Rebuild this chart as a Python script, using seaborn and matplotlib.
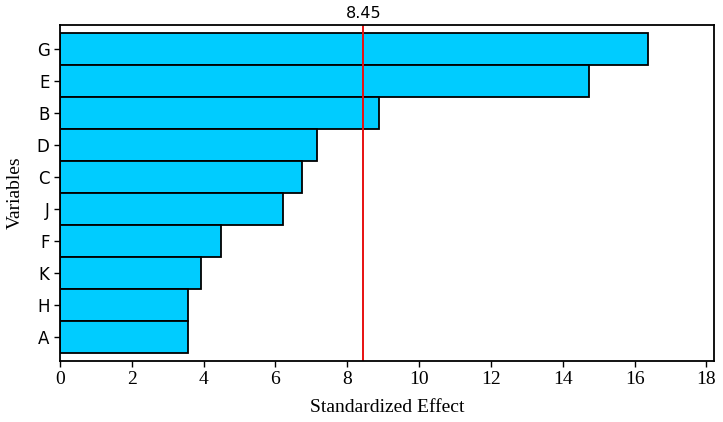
import numpy as np
import pandas as pd
import matplotlib
matplotlib.use("Agg")
import matplotlib.pyplot as plt
import seaborn as sns

# Pareto-style standardized effects
variables = ['G', 'E', 'B', 'D', 'C', 'J', 'F', 'K', 'H', 'A']
effects = [16.36, 14.74, 8.89, 7.15, 6.73, 6.22, 4.49, 3.92, 3.56, 3.57]
threshold = 8.45
x_ticks = [0, 2, 4, 6, 8, 10, 12, 14, 16, 18]

df = pd.DataFrame({'Variable': variables, 'Effect': effects})

sns.set_style("white")

fig = plt.figure(figsize=(7.23, 4.22), dpi=100)
ax = fig.add_axes([0.083, 0.145, 0.905, 0.796])

sns.barplot(data=df, x='Effect', y='Variable', orient='h', color='#00CCFF',
            saturation=1, width=1.0, edgecolor='black', linewidth=1.3, ax=ax)

ax.axvline(threshold, color='#E81010', linewidth=1.4)
ax.text(threshold, 1.012, '8.45', transform=ax.get_xaxis_transform(),
        ha='center', va='bottom', fontsize=11.5, family='DejaVu Sans', color='black')

ax.set_xlim(0, 18.22)
ax.set_ylim(9.75, -0.75)
ax.set_xticks(x_ticks)

for s in ax.spines.values():
    s.set_color('black')
    s.set_linewidth(1.3)

ax.tick_params(axis='both', direction='out', length=4, width=1, color='black',
               labelcolor='black', left=True, bottom=True)
for lab in ax.get_xticklabels():
    lab.set_family('Liberation Serif')
    lab.set_fontsize(14)
for lab in ax.get_yticklabels():
    lab.set_family('DejaVu Sans')
    lab.set_fontsize(12)

ax.set_xlabel('Standardized Effect', family='Liberation Serif', fontsize=14,
              labelpad=8, color='black')
ax.set_ylabel('Variables', family='Liberation Serif', fontsize=14,
              labelpad=9, color='black')

fig.savefig('out.png', dpi=100)
